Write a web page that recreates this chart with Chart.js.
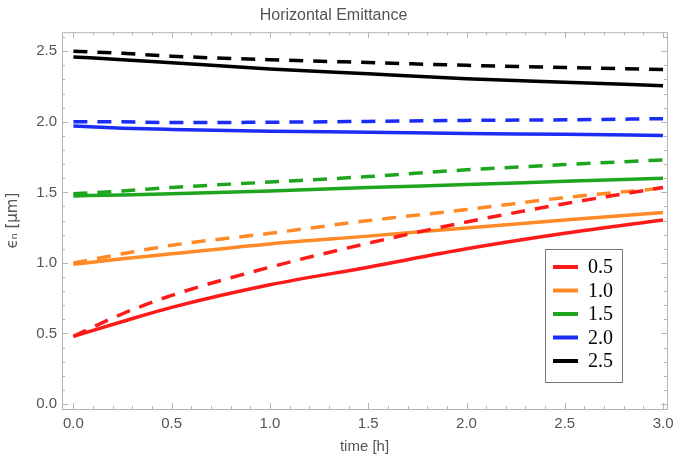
<!DOCTYPE html>
<html>
<head>
<meta charset="utf-8">
<script src="https://cdn.jsdelivr.net/npm/chart.js@4"></script>
<style>
  body { margin: 0; background: #fff; }
  #wrap { width: 676px; height: 460px; }
</style>
</head>
<body>
<div id="wrap"><canvas id="myChart"></canvas></div>
<script>
// data
const times = [0, 0.25, 0.5, 1, 1.5, 2, 2.5, 3];
const labels = ["0.5", "1.0", "1.5", "2.0", "2.5"];

const solid05 = [0.48, 0.585, 0.685, 0.845, 0.97, 1.10, 1.21, 1.305];
const dashed05 = [0.48, 0.64, 0.77, 0.97, 1.14, 1.29, 1.42, 1.535];
const solid10 = [0.99, 1.03, 1.065, 1.135, 1.19, 1.248, 1.305, 1.357];
const dashed10 = [1.0, 1.065, 1.125, 1.21, 1.30, 1.378, 1.463, 1.53];
const solid15 = [1.475, 1.482, 1.49, 1.51, 1.535, 1.555, 1.578, 1.60];
const dashed15 = [1.49, 1.51, 1.535, 1.573, 1.612, 1.66, 1.697, 1.73];
const solid20 = [1.97, 1.955, 1.946, 1.933, 1.926, 1.917, 1.912, 1.903];
const dashed20 = [2.0, 2.0, 1.995, 1.997, 2.003, 2.01, 2.014, 2.022];
const solid25 = [2.46, 2.44, 2.418, 2.375, 2.34, 2.305, 2.28, 2.256];
const dashed25 = [2.50, 2.485, 2.465, 2.44, 2.42, 2.40, 2.385, 2.37];

const xTicks = [0, 0.5, 1, 1.5, 2, 2.5, 3];
const yTicks = [0, 0.5, 1, 1.5, 2, 2.5];

const colors = ["#ff1a1a", "#ff8a26", "#1ea51e", "#1a2cf5", "#000000"];
const solids = [solid05, solid10, solid15, solid20, solid25];
const dashes = [dashed05, dashed10, dashed15, dashed20, dashed25];

const pts = (arr) => arr.map((v, i) => ({ x: times[i], y: v }));

const datasets = [];
for (let i = 0; i < labels.length; i++) {
  datasets.push({
    label: labels[i],
    data: pts(solids[i]),
    borderColor: colors[i],
    borderWidth: 3.5,
    pointRadius: 0,
    cubicInterpolationMode: "monotone",
    fill: false,
  });
  datasets.push({
    label: labels[i] + " dashed",
    data: pts(dashes[i]),
    borderColor: colors[i],
    borderWidth: 3.5,
    borderDash: [14, 10],
    pointRadius: 0,
    cubicInterpolationMode: "monotone",
    fill: false,
  });
}

const gray = "#555555";
const frameColor = "#b4b4b4";
const sans = "'Liberation Sans', sans-serif";

// frame with inward ticks, like the original plot
const framePlugin = {
  id: "frame",
  afterDraw(chart) {
    const { ctx, chartArea: a, scales } = chart;
    ctx.save();
    ctx.strokeStyle = frameColor;
    ctx.lineWidth = 1;
    ctx.strokeRect(a.left + 0.5, a.top + 0.5, a.right - a.left, a.bottom - a.top);
    ctx.beginPath();
    for (let k = 0; k <= 30; k++) {
      const v = k / 10;
      const len = k % 5 === 0 ? 6 : 3;
      const px = Math.round(scales.x.getPixelForValue(v)) + 0.5;
      ctx.moveTo(px, a.bottom); ctx.lineTo(px, a.bottom - len);
      ctx.moveTo(px, a.top); ctx.lineTo(px, a.top + len);
    }
    for (let k = 0; k <= 26; k++) {
      const v = k / 10;
      const len = k % 5 === 0 ? 6 : 3;
      const py = Math.round(scales.y.getPixelForValue(v)) + 0.5;
      ctx.moveTo(a.left, py); ctx.lineTo(a.left + len, py);
      ctx.moveTo(a.right, py); ctx.lineTo(a.right - len, py);
    }
    ctx.stroke();
    ctx.restore();
  },
};

// boxed legend inside the plot, bottom right
const legendPlugin = {
  id: "boxLegend",
  afterDraw(chart) {
    const { ctx, chartArea: a } = chart;
    const w = 77, h = 133;
    const left = a.right - 45 - w;
    const top = a.bottom - 27 - h;
    ctx.save();
    ctx.fillStyle = "#fff";
    ctx.fillRect(left, top, w, h);
    ctx.strokeStyle = "#777";
    ctx.lineWidth = 1;
    ctx.strokeRect(left + 0.5, top + 0.5, w, h);
    ctx.font = "20px 'Liberation Serif'";
    ctx.textBaseline = "middle";
    ctx.fillStyle = "#000";
    labels.forEach((lab, i) => {
      const y = top + 18 + i * 23.5;
      ctx.strokeStyle = colors[i];
      ctx.lineWidth = 4;
      ctx.beginPath();
      ctx.moveTo(left + 8, y);
      ctx.lineTo(left + 33, y);
      ctx.stroke();
      ctx.fillText(lab, left + 43, y + 1);
    });
    ctx.restore();
  },
};

const config = {
  type: "line",
  data: { datasets },
  options: {
    responsive: true,
    maintainAspectRatio: false,
    animation: false,
    layout: { padding: { right: 9, left: 0, top: 0, bottom: 0 } },
    scales: {
      x: {
        type: "linear",
        min: -0.058,
        max: 3.02,
        afterBuildTicks: (s) => { s.ticks = xTicks.map((v) => ({ value: v })); },
        afterFit: (s) => { s.height = 51; s.paddingRight = 0; s.paddingLeft = 0; },
        grid: { display: false, drawTicks: false },
        border: { display: false },
        ticks: {
          color: gray,
          padding: 6,
          font: { size: 15, family: sans },
          callback: (v) => v.toFixed(1),
        },
        title: {
          display: true,
          text: "time [h]",
          color: gray,
          padding: { top: 0 },
          font: { size: 15, family: sans },
        },
      },
      y: {
        type: "linear",
        min: -0.035,
        max: 2.635,
        afterBuildTicks: (s) => { s.ticks = yTicks.map((v) => ({ value: v })); },
        afterFit: (s) => { s.width = 62; },
        grid: { display: false, drawTicks: false },
        border: { display: false },
        ticks: {
          color: gray,
          padding: 5,
          font: { size: 15, family: sans },
          callback: (v) => v.toFixed(1),
        },
        title: {
          display: true,
          text: "ϵₙ [μm]",
          color: gray,
          padding: { bottom: 4 },
          font: { size: 15, family: "'DejaVu Sans', sans-serif" },
        },
      },
    },
    plugins: {
      legend: { display: false },
      tooltip: { enabled: false },
      title: {
        display: true,
        text: "Horizontal Emittance",
        color: gray,
        padding: { top: 6, bottom: 7 },
        font: { size: 16, weight: "normal", family: sans },
      },
    },
  },
  plugins: [framePlugin, legendPlugin],
};

const myChart = new Chart(document.getElementById("myChart"), config);
</script>
</body>
</html>
